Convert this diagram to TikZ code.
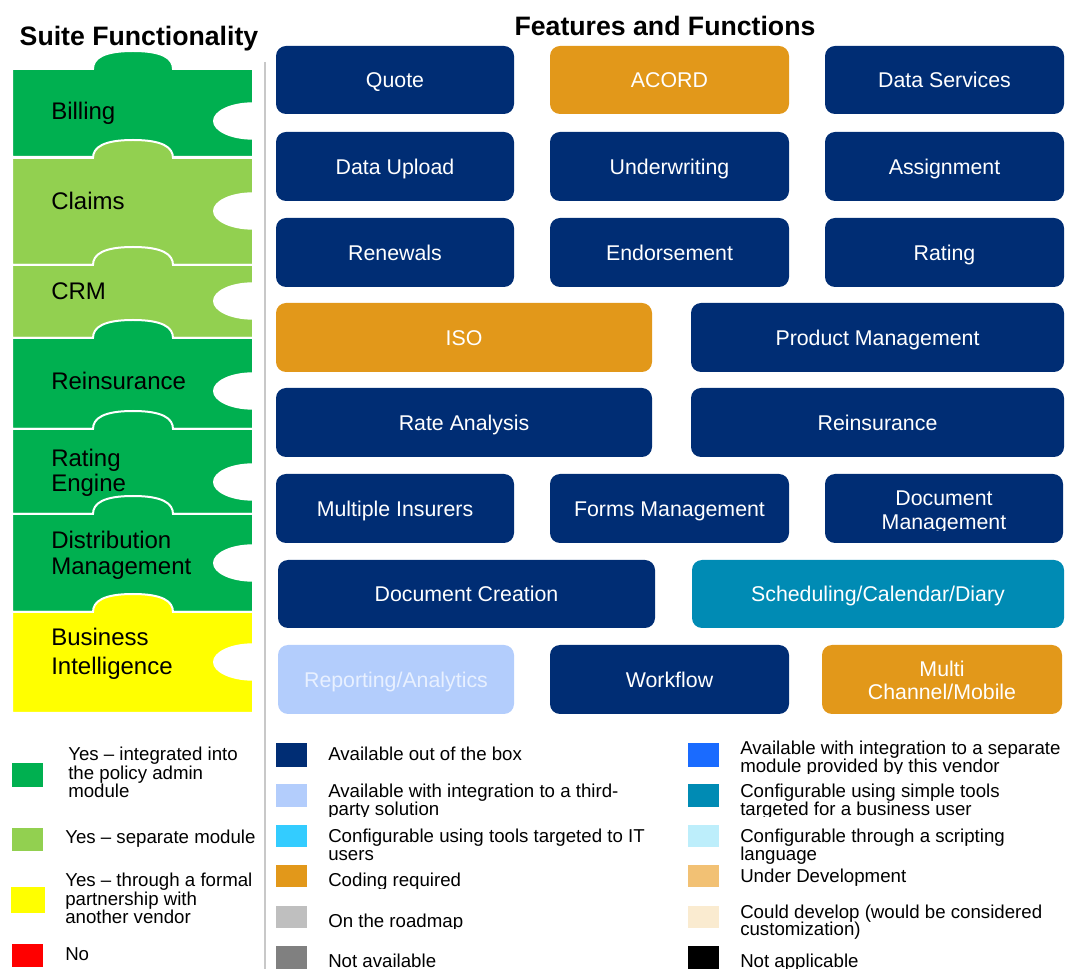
\documentclass[tikz,border=0pt]{standalone}
\usepackage{fontspec}
\setmainfont{Liberation Sans}
\usetikzlibrary{fit,calc}
\definecolor{navy}{RGB}{0,45,116}
\definecolor{orng}{RGB}{226,152,26}
\definecolor{teal2}{RGB}{0,139,180}
\definecolor{ltblue}{RGB}{179,205,252}
\definecolor{brblue}{RGB}{26,107,255}
\definecolor{cyan2}{RGB}{51,204,255}
\definecolor{ltcyan}{RGB}{189,238,251}
\definecolor{ltorng}{RGB}{242,193,116}
\definecolor{cream}{RGB}{250,235,208}
\definecolor{dgreen}{RGB}{0,176,80}
\definecolor{lgreen}{RGB}{146,208,80}
\definecolor{yel}{RGB}{255,255,0}
\definecolor{redc}{RGB}{255,0,0}
\definecolor{gray1}{RGB}{191,191,191}
\definecolor{gray2}{RGB}{128,128,128}
\definecolor{divgray}{RGB}{200,200,200}
\definecolor{paletxt}{RGB}{232,240,255}
\newcommand\puzzlepiece[3]{%
  \filldraw[fill=#3, draw=white, line width=1.5pt]
    (12,#2) -- (12,#1) -- (93,#1)
    .. controls (93,#1-11) and (104,#1-18) .. (133,#1-18)
    .. controls (162,#1-18) and (173,#1-11) .. (173,#1)
    -- (253,#1) -- (253,#2) -- cycle;}
% feature box: name, fill, x1, y1, x2, y2, text
\newcommand\featbox[7]{%
  \node[feat, fill=#2, fit={(#3,#4)(#5,#6)}] (#1) {};
  \node[ftxt] (#1-t) at ($(#1.center)+(0,7.6)$) {#7};}
\tikzset{
  feat/.style={rounded corners=7.5pt, inner sep=0pt},
  ftxt/.style={text=white, font=\fontsize{16}{18}\selectfont, inner sep=0pt, anchor=base},
  plabel/.style={font=\fontsize{18}{20}\selectfont, inner sep=0pt, anchor=base west},
  ltxt/.style={font=\fontsize{14}{16}\selectfont, inner sep=0pt, anchor=base west},
  sq/.style={inner sep=0pt},
  ttl/.style={font=\bfseries\fontsize{20}{22}\selectfont, inner sep=0pt, anchor=base},
}
\begin{document}
\begin{tikzpicture}[x=0.75pt,y=-0.75pt]
\useasboundingbox (0,0) rectangle (1065,969);
% titles
\node[ttl] (t1) at (139,46) {Suite Functionality};
\node[ttl] (t2) at (665,36) {Features and Functions};
% puzzle pieces
\puzzlepiece{69}{157}{dgreen}
\puzzlepiece{158}{265}{lgreen}
\puzzlepiece{265}{338}{lgreen}
\puzzlepiece{338}{429}{dgreen}
\puzzlepiece{429}{514}{dgreen}
\puzzlepiece{514}{612}{dgreen}
\puzzlepiece{612}{713}{yel}
\begin{scope}
  \clip (0,40) rectangle (253,720);
  \foreach \c in {121,211,301,391,482,563,662}
    \fill[white] (253,\c) ellipse [x radius=40, y radius=18.7];
\end{scope}
\node[plabel] (pbill) at (51,120) {Billing};
\node[plabel] (pclaims) at (51,210) {Claims};
\node[plabel] (pcrm) at (51,300) {CRM};
\node[plabel] (preins) at (51,390) {Reinsurance};
\node[plabel] (prate1) at (51,467) {Rating};
\node[plabel] (prate2) at (51,492) {Engine};
\node[plabel] (pdist1) at (51,549) {Distribution};
\node[plabel] (pdist2) at (51,575) {Management};
\node[plabel] (pbi1) at (51,646) {Business};
\node[plabel] (pbi2) at (51,675) {Intelligence};
% divider
\draw[divgray, line width=1.5pt] (265,62) -- (265,969);
% feature boxes
\featbox{quote}{navy}{276}{46}{514}{114}{Quote}
\featbox{acord}{orng}{550}{46}{789}{114}{ACORD}
\featbox{datasvc}{navy}{825}{46}{1064}{114}{Data Services}
\featbox{upload}{navy}{276}{132}{514}{201}{Data Upload}
\featbox{uw}{navy}{550}{132}{789}{201}{Underwriting}
\featbox{assign}{navy}{825}{132}{1064}{201}{Assignment}
\featbox{renew}{navy}{276}{218}{514}{287}{Renewals}
\featbox{endorse}{navy}{550}{218}{789}{287}{Endorsement}
\featbox{rating}{navy}{825}{218}{1064}{287}{Rating}
\featbox{iso}{orng}{276}{303}{652}{372}{ISO}
\featbox{prodmgmt}{navy}{691}{303}{1064}{372}{Product Management}
\featbox{rateanl}{navy}{276}{388}{652}{457}{Rate Analysis}
\featbox{reins}{navy}{691}{388}{1064}{457}{Reinsurance}
\featbox{multins}{navy}{276}{474}{514}{543}{Multiple Insurers}
\featbox{forms}{navy}{550}{474}{789}{543}{Forms Management}
\node[feat, fill=navy, fit={(825,474)(1063,543)}] (docmgmt) {};
\node[ftxt] (docmgmt1) at (944,506) {Document};
\begin{scope}
  \clip (825,510) rectangle (1063,530.5);
  \node[ftxt] (docmgmt2) at (944,530) {Management};
\end{scope}
\featbox{doccreate}{navy}{278}{560}{655}{628}{Document Creation}
\featbox{sched}{teal2}{692}{560}{1064}{628}{Scheduling/Calendar/Diary}
\node[feat, fill=ltblue, fit={(278,645)(514,714)}] (report) {};
\node[ftxt, text=paletxt] (report-t) at ($(report.center)+(0,7.6)$) {Reporting/Analytics};
\featbox{workflow}{navy}{550}{645}{789}{714}{Workflow}
\node[feat, fill=orng, fit={(822,645)(1062,714)}] (multi) {};
\node[ftxt] (multi1) at (942,677) {Multi};
\node[ftxt] (multi2) at (942,700) {Channel/Mobile};
% left legend
\node[sq, fill=dgreen, fit={(12,763)(43,787)}] (lg1) {};
\node[sq, fill=lgreen, fit={(12,828)(43,851)}] (lg2) {};
\node[sq, fill=yel, fit={(11,887)(45,913)}] (lg3) {};
\node[sq, fill=redc, fit={(12,944)(43,967)}] (lg4) {};
\node[ltxt] (lt1a) at (68,761) {Yes – integrated into};
\node[ltxt] (lt1b) at (68,780) {the policy admin};
\node[ltxt] (lt1c) at (68,798) {module};
\node[ltxt] (lt2) at (65,844) {Yes – separate module};
\node[ltxt] (lt3a) at (65,887) {Yes – through a formal};
\node[ltxt] (lt3b) at (65,905) {partnership with};
\node[ltxt] (lt3c) at (65,923) {another vendor};
\node[ltxt] (lt4) at (65,960) {No};
% middle legend
\node[sq, fill=navy, fit={(276,743)(307,767)}] (lm1) {};
\node[sq, fill=ltblue, fit={(276,784)(307,807)}] (lm2) {};
\node[sq, fill=cyan2, fit={(276,825)(307,847)}] (lm3) {};
\node[sq, fill=orng, fit={(276,865)(307,887)}] (lm4) {};
\node[sq, fill=gray1, fit={(276,906)(307,928)}] (lm5) {};
\node[sq, fill=gray2, fit={(276,946)(307,969)}] (lm6) {};
\node[ltxt] (mt1) at (328,761) {Available out of the box};
\node[ltxt] (mt2a) at (328,798) {Available with integration to a third-};
\begin{scope}
  \clip (320,800) rectangle (660,816.5);
  \node[ltxt] (mt2b) at (328,815.5) {party solution};
\end{scope}
\node[ltxt] (mt3a) at (328,843) {Configurable using tools targeted to IT};
\node[ltxt] (mt3b) at (328,860) {users};
\begin{scope}
  \clip (320,870) rectangle (660,888);
  \node[ltxt] (mt4) at (328,887) {Coding required};
\end{scope}
\begin{scope}
  \clip (320,910) rectangle (660,928.5);
  \node[ltxt] (mt5) at (328,927.5) {On the roadmap};
\end{scope}
\node[ltxt] (mt6) at (328,967.5) {Not available};
% right legend
\node[sq, fill=brblue, fit={(688,743)(719,767)}] (lr1) {};
\node[sq, fill=teal2, fit={(688,784)(719,807)}] (lr2) {};
\node[sq, fill=ltcyan, fit={(688,825)(719,847)}] (lr3) {};
\node[sq, fill=ltorng, fit={(688,865)(719,887)}] (lr4) {};
\node[sq, fill=cream, fit={(688,906)(719,928)}] (lr5) {};
\node[sq, fill=black, fit={(688,946)(719,969)}] (lr6) {};
\node[ltxt] (rt1a) at (740,755) {Available with integration to a separate};
\begin{scope}
  \clip (730,758) rectangle (1065,774);
  \node[ltxt] (rt1b) at (740,773) {module provided by this vendor};
\end{scope}
\node[ltxt] (rt2a) at (740,798) {Configurable using simple tools};
\begin{scope}
  \clip (730,801) rectangle (1065,816.5);
  \node[ltxt] (rt2b) at (740,815.5) {targeted for a business user};
\end{scope}
\node[ltxt] (rt3a) at (740,843) {Configurable through a scripting};
\node[ltxt] (rt3b) at (740,860) {language};
\node[ltxt] (rt4) at (740,883) {Under Development};
\node[ltxt] (rt5a) at (740,918) {Could develop (would be considered};
\node[ltxt] (rt5b) at (740,935) {customization)};
\node[ltxt] (rt6) at (740,967) {Not applicable};
\end{tikzpicture}
\end{document}
